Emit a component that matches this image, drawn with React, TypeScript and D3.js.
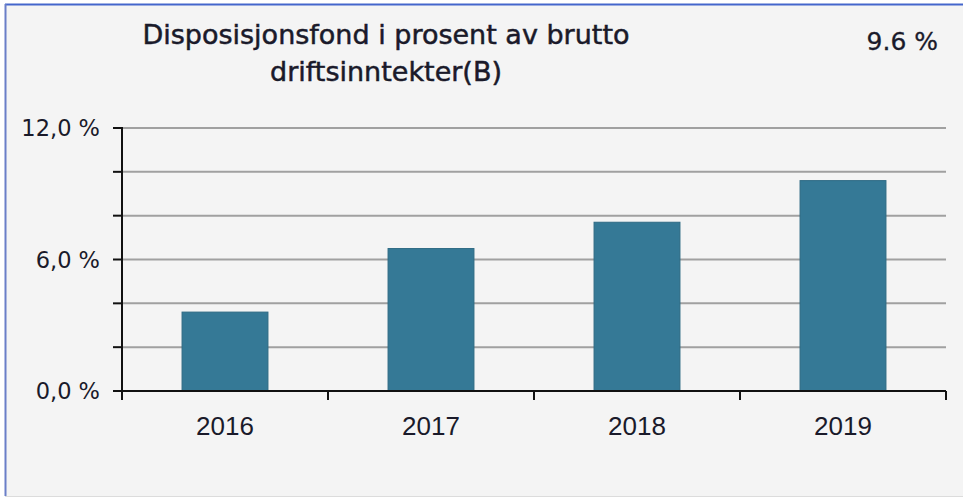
import React from "react";
import * as d3 from "d3";

const categories = ["2016", "2017", "2018", "2019"];
const values = [3.6, 6.5, 7.7, 9.6];
const yMajorTicks = [0, 6, 12];
const yMinorTicks = [0, 2, 4, 6, 8, 10, 12];
const titleLines = ["Disposisjonsfond i prosent av brutto", "driftsinntekter(B)"];
const latestLabel = "9.6 %";

export default function App() {
  const W = 963, H = 498;
  const left = 122, right = 946, top = 128, bottom = 391;
  const x = d3.scaleBand<string>().domain(categories).range([left, right]).paddingInner(0.583).paddingOuter(0.2915);
  const xb = d3.scaleBand<string>().domain(categories).range([left, right]);
  const y = d3.scaleLinear().domain([0, 12]).range([bottom, top]);
  const fmt = (v: number) => d3.format(".1f")(v).replace(".", ",") + " %";
  const font = "'DejaVu Sans', sans-serif";
  return (
    <svg width={W} height={H} style={{ position: "absolute", left: 0, top: 0, display: "block" }}>
      <rect x={0} y={0} width={W} height={H} fill="#ffffff" />
      <rect x={5} y={4} width={W - 5} height={492} fill="#f4f4f4" />
      <line x1={5} x2={W} y1={4.5} y2={4.5} stroke="#4466cc" strokeWidth={2} />
      <line x1={5.5} x2={5.5} y1={4} y2={496} stroke="#6a7fc8" strokeWidth={2} />
      <line x1={5} x2={W} y1={496.5} y2={496.5} stroke="#dcdcdc" strokeWidth={1} />
      {yMinorTicks.filter(t => t > 0).map(t => (
        <line key={"g" + t} x1={left} x2={right} y1={y(t)} y2={y(t)} stroke="#a0a0a0" strokeWidth={2} />
      ))}
      {categories.map((c, i) => (
        <rect key={c} x={x(c)} y={y(values[i])} width={x.bandwidth()} height={y(0) - y(values[i])}
          fill="#357996" stroke="#2e6a84" strokeWidth={1} />
      ))}
      <line x1={left} x2={left} y1={top - 1} y2={bottom + 9} stroke="#111" strokeWidth={2} />
      <line x1={left} x2={right} y1={bottom} y2={bottom} stroke="#111" strokeWidth={2} />
      {yMinorTicks.map(t => (
        <line key={"t" + t} x1={left - 9} x2={left} y1={y(t)} y2={y(t)} stroke="#111" strokeWidth={2} />
      ))}
      {categories.map(c => (
        <line key={"xt" + c} x1={(xb(c) as number) + xb.bandwidth()} x2={(xb(c) as number) + xb.bandwidth()}
          y1={bottom} y2={bottom + 9} stroke="#111" strokeWidth={2} />
      ))}
      {yMajorTicks.map(t => (
        <text key={"yl" + t} x={100} y={y(t) + 8} textAnchor="end" fontFamily={font} fontSize={22.5} fill="#1a1a2a">{fmt(t)}</text>
      ))}
      {categories.map(c => (
        <text key={"xl" + c} x={(x(c) as number) + x.bandwidth() / 2} y={435} textAnchor="middle"
          fontFamily="'Liberation Sans', Arial, sans-serif" fontSize={26} fill="#1a1a2a">{c}</text>
      ))}
      {titleLines.map((l, i) => (
        <text key={"ti" + i} x={386} y={44 + i * 37} textAnchor="middle" fontFamily={font}
          fontSize={27} fill="#1a1a2a" stroke="#1a1a2a" strokeWidth={0.5}>{l}</text>
      ))}
      <text x={938} y={50} textAnchor="end" fontFamily={font} fontSize={25} fill="#1a1a2a" stroke="#1a1a2a" strokeWidth={0.3}>{latestLabel}</text>
    </svg>
  );
}
